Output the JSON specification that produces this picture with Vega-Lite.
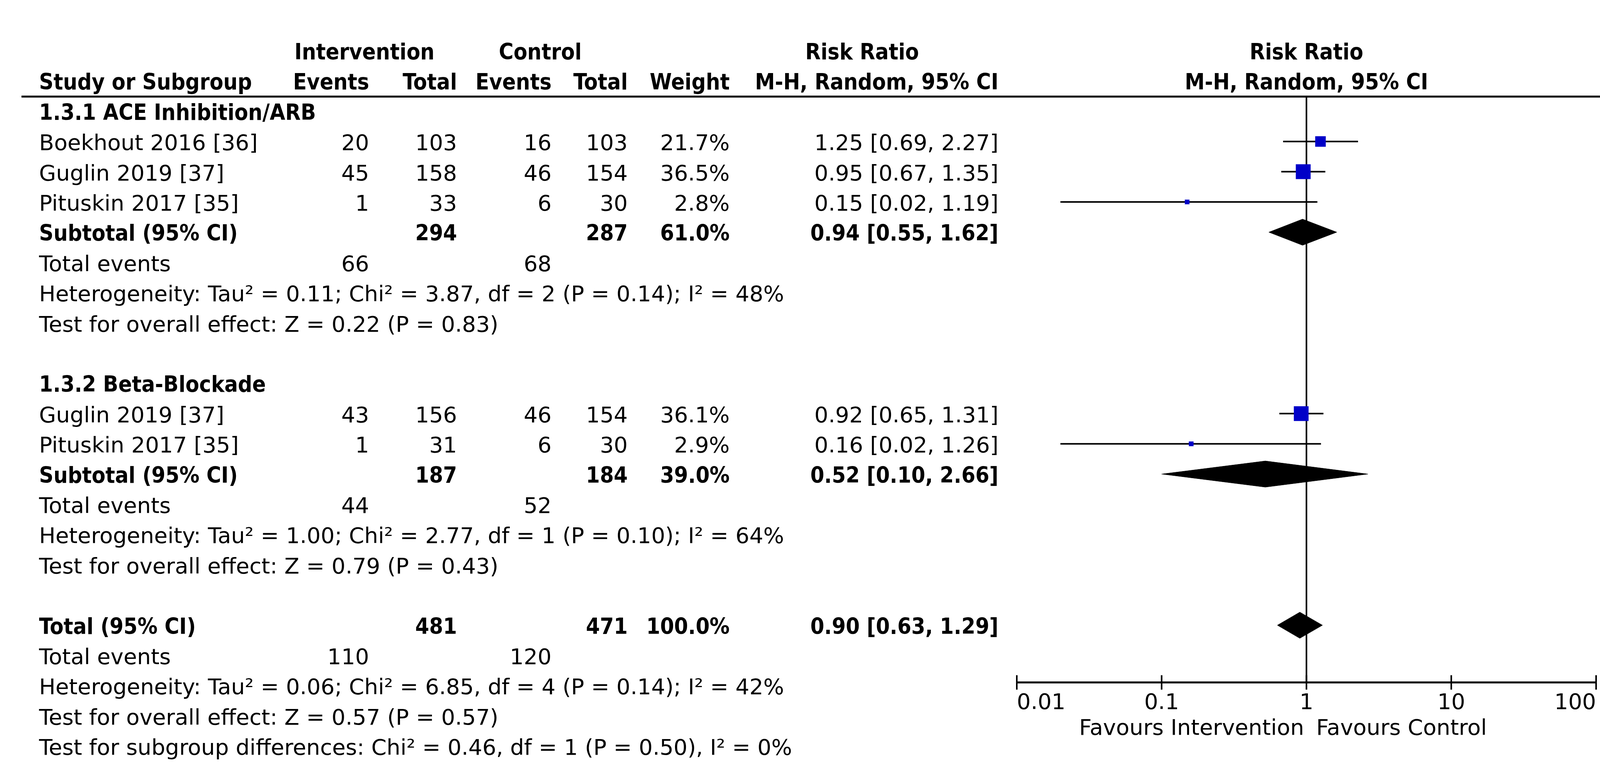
{
  "$schema": "https://vega.github.io/schema/vega-lite/v6.json",
  "width": 4144,
  "height": 1747,
  "autosize": {"type": "none"},
  "padding": {"left": 0, "top": 0, "right": 0, "bottom": 237},
  "background": "white",
  "config": {
    "view": {"stroke": null},
    "text": {"font": "DejaVu Sans", "fontSize": 56, "color": "black"}
  },
  "datasets": {
    "rows": [
      {"row": 2, "type": "group", "label": "1.3.1 ACE Inhibition/ARB"},
      {"row": 3, "type": "study", "label": "Boekhout 2016 [36]", "ie": 20, "it": 103, "ce": 16, "ct": 103, "weight": 0.217, "rr": 1.25, "lo": 0.69, "hi": 2.27, "ci": "1.25 [0.69, 2.27]"},
      {"row": 4, "type": "study", "label": "Guglin 2019 [37]", "ie": 45, "it": 158, "ce": 46, "ct": 154, "weight": 0.365, "rr": 0.95, "lo": 0.67, "hi": 1.35, "ci": "0.95 [0.67, 1.35]"},
      {"row": 5, "type": "study", "label": "Pituskin 2017 [35]", "ie": 1, "it": 33, "ce": 6, "ct": 30, "weight": 0.028, "rr": 0.15, "lo": 0.02, "hi": 1.19, "ci": "0.15 [0.02, 1.19]"},
      {"row": 6, "type": "subtotal", "label": "Subtotal (95% CI)", "it": 294, "ct": 287, "weight": 0.61, "rr": 0.94, "lo": 0.55, "hi": 1.62, "ci": "0.94 [0.55, 1.62]"},
      {"row": 7, "type": "events", "label": "Total events", "ie": 66, "ce": 68},
      {"row": 8, "type": "note", "label": "Heterogeneity: Tau² = 0.11; Chi² = 3.87, df = 2 (P = 0.14); I² = 48%"},
      {"row": 9, "type": "note", "label": "Test for overall effect: Z = 0.22 (P = 0.83)"},
      {"row": 11, "type": "group", "label": "1.3.2 Beta-Blockade"},
      {"row": 12, "type": "study", "label": "Guglin 2019 [37]", "ie": 43, "it": 156, "ce": 46, "ct": 154, "weight": 0.361, "rr": 0.92, "lo": 0.65, "hi": 1.31, "ci": "0.92 [0.65, 1.31]"},
      {"row": 13, "type": "study", "label": "Pituskin 2017 [35]", "ie": 1, "it": 31, "ce": 6, "ct": 30, "weight": 0.029, "rr": 0.16, "lo": 0.02, "hi": 1.26, "ci": "0.16 [0.02, 1.26]"},
      {"row": 14, "type": "subtotal", "label": "Subtotal (95% CI)", "it": 187, "ct": 184, "weight": 0.39, "rr": 0.52, "lo": 0.10, "hi": 2.66, "ci": "0.52 [0.10, 2.66]"},
      {"row": 15, "type": "events", "label": "Total events", "ie": 44, "ce": 52},
      {"row": 16, "type": "note", "label": "Heterogeneity: Tau² = 1.00; Chi² = 2.77, df = 1 (P = 0.10); I² = 64%"},
      {"row": 17, "type": "note", "label": "Test for overall effect: Z = 0.79 (P = 0.43)"},
      {"row": 19, "type": "total", "label": "Total (95% CI)", "it": 481, "ct": 471, "weight": 1.0, "rr": 0.90, "lo": 0.63, "hi": 1.29, "ci": "0.90 [0.63, 1.29]"},
      {"row": 20, "type": "events", "label": "Total events", "ie": 110, "ce": 120},
      {"row": 21, "type": "note", "label": "Heterogeneity: Tau² = 0.06; Chi² = 6.85, df = 4 (P = 0.14); I² = 42%"},
      {"row": 22, "type": "note", "label": "Test for overall effect: Z = 0.57 (P = 0.57)"},
      {"row": 23, "type": "note", "label": "Test for subgroup differences: Chi² = 0.46, df = 1 (P = 0.50), I² = 0%"}
    ],
    "header": [
      {"row": 0, "col": 2, "text": "Intervention"},
      {"row": 0, "col": 5, "text": "Control"},
      {"row": 0, "col": 9, "text": "Risk Ratio"},
      {"row": 1, "col": 1, "text": "Study or Subgroup"},
      {"row": 1, "col": 3, "text": "Events"},
      {"row": 1, "col": 4, "text": "Total"},
      {"row": 1, "col": 6, "text": "Events"},
      {"row": 1, "col": 7, "text": "Total"},
      {"row": 1, "col": 8, "text": "Weight"},
      {"row": 1, "col": 10, "text": "M-H, Random, 95% CI"}
    ],
    "plotHeader": [
      {"row": 0, "text": "Risk Ratio"},
      {"row": 1, "text": "M-H, Random, 95% CI"}
    ],
    "favours": [
      {"label": "Favours Intervention", "side": "left"},
      {"label": "Favours Control", "side": "right"}
    ],
    "diamonds": [
      {"row": 6, "pos": "mid", "x": 0.55},
      {"row": 6, "pos": "top", "x": 0.94},
      {"row": 6, "pos": "mid", "x": 1.62},
      {"row": 6, "pos": "bottom", "x": 0.94},
      {"row": 14, "pos": "mid", "x": 0.10},
      {"row": 14, "pos": "top", "x": 0.52},
      {"row": 14, "pos": "mid", "x": 2.66},
      {"row": 14, "pos": "bottom", "x": 0.52},
      {"row": 19, "pos": "mid", "x": 0.63},
      {"row": 19, "pos": "top", "x": 0.90},
      {"row": 19, "pos": "mid", "x": 1.29},
      {"row": 19, "pos": "bottom", "x": 0.90}
    ],
    "ticks": [{"t": 0.01}, {"t": 0.1}, {"t": 1}, {"t": 10}, {"t": 100}]
  },
  "encoding": {
    "y": {"field": "row", "type": "quantitative", "scale": {"domain": [0, 23], "range": [130, 1910.2], "nice": false, "zero": false}, "axis": null}
  },
  "layer": [
    {
      "layer": [
        {
          "data": {"name": "header"},
          "transform": [{"filter": "datum.row === 1 && datum.col === 1"}],
          "mark": {"type": "rule", "color": "black", "strokeWidth": 5},
          "encoding": {
            "x": {"datum": 0, "type": "quantitative", "scale": {"domain": [0,1,2,3,4,5,6,7,8,9,10,11], "range": [55,100,933,945,1170,1383,1412,1607,1868,2207,2556,4141], "nice": false, "zero": false}, "axis": null},
            "x2": {"datum": 11},
            "y": {"datum": 1.515, "type": "quantitative", "axis": null}
          }
        },
        {
          "data": {"name": "header"},
          "mark": {"type": "text", "baseline": "alphabetic", "dy": 22, "font": "DejaVu Sans Condensed, DejaVu Sans", "fontSize": 57, "fontWeight": "bold",
                   "align": {"expr": "datum.col === 1 ? 'left' : (datum.col === 2 || datum.col === 5 || datum.col === 9) ? 'center' : 'right'"}},
          "encoding": {
            "x": {"field": "col", "type": "quantitative", "scale": {"domain": [0,1,2,3,4,5,6,7,8,9,10,11], "range": [55,100,933,945,1170,1383,1412,1607,1868,2207,2556,4141], "nice": false, "zero": false}, "axis": null},
            "text": {"field": "text"}
          }
        },
        {
          "data": {"name": "rows"},
          "mark": {"type": "text", "align": "left", "baseline": "alphabetic", "dy": 22,
                   "font": {"expr": "(datum.type === 'group' || datum.type === 'subtotal' || datum.type === 'total') ? 'DejaVu Sans Condensed, DejaVu Sans' : 'DejaVu Sans'"},
                   "fontSize": {"expr": "(datum.type === 'group' || datum.type === 'subtotal' || datum.type === 'total') ? 57 : 56"},
                   "fontWeight": {"expr": "(datum.type === 'group' || datum.type === 'subtotal' || datum.type === 'total') ? 'bold' : 'normal'"}},
          "encoding": {
            "x": {"datum": 1, "type": "quantitative", "scale": {"domain": [0,1,2,3,4,5,6,7,8,9,10,11], "range": [55,100,933,945,1170,1383,1412,1607,1868,2207,2556,4141], "nice": false, "zero": false}, "axis": null},
            "text": {"field": "label"}
          }
        },
        {
          "data": {"name": "rows"},
          "transform": [{"filter": "isValid(datum.ie)"}],
          "mark": {"type": "text", "align": "right", "baseline": "alphabetic", "dy": 22, "font": "DejaVu Sans", "fontSize": 56},
          "encoding": {
            "x": {"datum": 3, "type": "quantitative", "scale": {"domain": [0,1,2,3,4,5,6,7,8,9,10,11], "range": [55,100,933,945,1170,1383,1412,1607,1868,2207,2556,4141], "nice": false, "zero": false}, "axis": null},
            "text": {"field": "ie", "type": "nominal"}
          }
        },
        {
          "data": {"name": "rows"},
          "transform": [{"filter": "isValid(datum.it)"}],
          "mark": {"type": "text", "align": "right", "baseline": "alphabetic", "dy": 22,
                   "font": {"expr": "(datum.type === 'subtotal' || datum.type === 'total') ? 'DejaVu Sans Condensed, DejaVu Sans' : 'DejaVu Sans'"},
                   "fontSize": {"expr": "(datum.type === 'subtotal' || datum.type === 'total') ? 57 : 56"},
                   "fontWeight": {"expr": "(datum.type === 'subtotal' || datum.type === 'total') ? 'bold' : 'normal'"}},
          "encoding": {
            "x": {"datum": 4, "type": "quantitative", "scale": {"domain": [0,1,2,3,4,5,6,7,8,9,10,11], "range": [55,100,933,945,1170,1383,1412,1607,1868,2207,2556,4141], "nice": false, "zero": false}, "axis": null},
            "text": {"field": "it", "type": "nominal"}
          }
        },
        {
          "data": {"name": "rows"},
          "transform": [{"filter": "isValid(datum.ce)"}],
          "mark": {"type": "text", "align": "right", "baseline": "alphabetic", "dy": 22, "font": "DejaVu Sans", "fontSize": 56},
          "encoding": {
            "x": {"datum": 6, "type": "quantitative", "scale": {"domain": [0,1,2,3,4,5,6,7,8,9,10,11], "range": [55,100,933,945,1170,1383,1412,1607,1868,2207,2556,4141], "nice": false, "zero": false}, "axis": null},
            "text": {"field": "ce", "type": "nominal"}
          }
        },
        {
          "data": {"name": "rows"},
          "transform": [{"filter": "isValid(datum.ct)"}],
          "mark": {"type": "text", "align": "right", "baseline": "alphabetic", "dy": 22,
                   "font": {"expr": "(datum.type === 'subtotal' || datum.type === 'total') ? 'DejaVu Sans Condensed, DejaVu Sans' : 'DejaVu Sans'"},
                   "fontSize": {"expr": "(datum.type === 'subtotal' || datum.type === 'total') ? 57 : 56"},
                   "fontWeight": {"expr": "(datum.type === 'subtotal' || datum.type === 'total') ? 'bold' : 'normal'"}},
          "encoding": {
            "x": {"datum": 7, "type": "quantitative", "scale": {"domain": [0,1,2,3,4,5,6,7,8,9,10,11], "range": [55,100,933,945,1170,1383,1412,1607,1868,2207,2556,4141], "nice": false, "zero": false}, "axis": null},
            "text": {"field": "ct", "type": "nominal"}
          }
        },
        {
          "data": {"name": "rows"},
          "transform": [{"filter": "isValid(datum.weight)"}],
          "mark": {"type": "text", "align": "right", "baseline": "alphabetic", "dy": 22,
                   "font": {"expr": "(datum.type === 'subtotal' || datum.type === 'total') ? 'DejaVu Sans Condensed, DejaVu Sans' : 'DejaVu Sans'"},
                   "fontSize": {"expr": "(datum.type === 'subtotal' || datum.type === 'total') ? 57 : 56"},
                   "fontWeight": {"expr": "(datum.type === 'subtotal' || datum.type === 'total') ? 'bold' : 'normal'"}},
          "encoding": {
            "x": {"datum": 8, "type": "quantitative", "scale": {"domain": [0,1,2,3,4,5,6,7,8,9,10,11], "range": [55,100,933,945,1170,1383,1412,1607,1868,2207,2556,4141], "nice": false, "zero": false}, "axis": null},
            "text": {"field": "weight", "type": "quantitative", "format": ".1%"}
          }
        },
        {
          "data": {"name": "rows"},
          "transform": [{"filter": "isValid(datum.ci)"}],
          "mark": {"type": "text", "align": "right", "baseline": "alphabetic", "dy": 22,
                   "font": {"expr": "(datum.type === 'subtotal' || datum.type === 'total') ? 'DejaVu Sans Condensed, DejaVu Sans' : 'DejaVu Sans'"},
                   "fontSize": {"expr": "(datum.type === 'subtotal' || datum.type === 'total') ? 57 : 56"},
                   "fontWeight": {"expr": "(datum.type === 'subtotal' || datum.type === 'total') ? 'bold' : 'normal'"}},
          "encoding": {
            "x": {"datum": 10, "type": "quantitative", "scale": {"domain": [0,1,2,3,4,5,6,7,8,9,10,11], "range": [55,100,933,945,1170,1383,1412,1607,1868,2207,2556,4141], "nice": false, "zero": false}, "axis": null},
            "text": {"field": "ci", "type": "nominal"}
          }
        }
      ]
    },
    {
      "layer": [
        {
          "data": {"name": "ticks"},
          "mark": {"type": "tick", "orient": "vertical", "color": "black", "size": 37, "thickness": 4, "opacity": 1},
          "encoding": {
            "x": {"field": "t", "type": "quantitative",
                  "scale": {"type": "log", "domain": [0.01, 100], "range": [2603, 4086], "nice": false, "zero": false},
                  "axis": null},
            "y": {"value": "height"}
          }
        },
        {
          "data": {"name": "ticks"},
          "transform": [{"filter": "datum.t === 1"}],
          "mark": {"type": "rule", "color": "black", "strokeWidth": 5},
          "encoding": {
            "x": {"datum": 0.01, "type": "quantitative", "axis": null},
            "x2": {"datum": 100},
            "y": {"value": "height"}
          }
        },
        {
          "data": {"name": "ticks"},
          "transform": [{"filter": "datum.t === 1"}],
          "mark": {"type": "rule", "color": "black", "strokeWidth": 4},
          "encoding": {
            "x": {"datum": 1, "type": "quantitative", "axis": null},
            "y": {"datum": 1.515, "type": "quantitative", "axis": null},
            "y2": {"datum": 20.89}
          }
        },
        {
          "data": {"name": "ticks"},
          "transform": [{"filter": "datum.t === 1"}],
          "mark": {"type": "tick", "orient": "vertical", "color": "black", "size": 1500, "thickness": 4, "opacity": 1},
          "encoding": {
            "x": {"datum": 1, "type": "quantitative", "axis": null},
            "y": {"value": "height"},
            "yOffset": {"value": -750}
          }
        },
        {
          "data": {"name": "ticks"},
          "mark": {"type": "text", "baseline": "alphabetic", "dy": 68, "font": "DejaVu Sans", "fontSize": 56,
                   "align": {"expr": "datum.t === 0.01 ? 'left' : datum.t === 100 ? 'right' : 'center'"}},
          "encoding": {
            "x": {"field": "t", "type": "quantitative", "axis": null},
            "y": {"value": "height"},
            "text": {"field": "t", "type": "quantitative", "format": "~g"}
          }
        },
        {
          "data": {"name": "favours"},
          "mark": {"type": "text", "baseline": "alphabetic", "dy": 134, "font": "DejaVu Sans", "fontSize": 56,
                   "align": {"expr": "datum.side === 'left' ? 'right' : 'left'"},
                   "dx": {"expr": "datum.side === 'left' ? -6 : 25"}},
          "encoding": {
            "x": {"datum": 1, "type": "quantitative", "axis": null},
            "y": {"value": "height"},
            "text": {"field": "label"}
          }
        },
        {
          "data": {"name": "rows"},
          "transform": [{"filter": "datum.type === 'study'"}],
          "mark": {"type": "rule", "color": "black", "strokeWidth": 4},
          "encoding": {
            "x": {"field": "lo", "type": "quantitative", "axis": null},
            "x2": {"field": "hi"}
          }
        },
        {
          "data": {"name": "rows"},
          "transform": [{"filter": "datum.type === 'study'"}],
          "mark": {"type": "square", "filled": true, "color": "#0000c8", "opacity": 1},
          "encoding": {
            "x": {"field": "rr", "type": "quantitative", "axis": null},
            "size": {"field": "weight", "type": "quantitative", "scale": {"domain": [0.028, 0.217, 0.365], "range": [144, 729, 1444]}, "legend": null}
          }
        },
        {
          "data": {"name": "plotHeader"},
          "mark": {"type": "text", "align": "center", "baseline": "alphabetic", "dy": 22, "font": "DejaVu Sans Condensed, DejaVu Sans", "fontSize": 57, "fontWeight": "bold"},
          "encoding": {
            "x": {"datum": 1, "type": "quantitative", "axis": null},
            "text": {"field": "text"}
          }
        }
      ]
    },
    {
      "data": {"name": "diamonds"},
      "mark": {"type": "line", "interpolate": "linear-closed", "filled": true, "fill": "black", "stroke": "black", "strokeWidth": 1},
      "encoding": {
        "x": {"field": "x", "type": "quantitative", "scale": {"type": "log", "domain": [0.01, 100], "range": [2603, 4086], "nice": false, "zero": false}, "axis": null},
        "y": {"field": "row", "type": "ordinal", "scale": {"type": "band", "domain": [0,1,2,3,4,5,6,7,8,9,10,11,12,13,14,15,16,17,18,19,20,21,22,23], "range": [130, 1987.6], "paddingInner": 0, "paddingOuter": 0}, "axis": null},
        "yOffset": {"field": "pos", "type": "nominal", "scale": {"type": "point", "domain": ["top", "mid", "bottom"], "range": [-33.5, 33.5], "padding": 0}},
        "detail": {"field": "row", "type": "nominal"},
        "order": {"value": null}
      }
    }
  ],
  "resolve": {"scale": {"x": "independent", "y": "independent"}, "axis": {"x": "independent", "y": "independent"}}
}
